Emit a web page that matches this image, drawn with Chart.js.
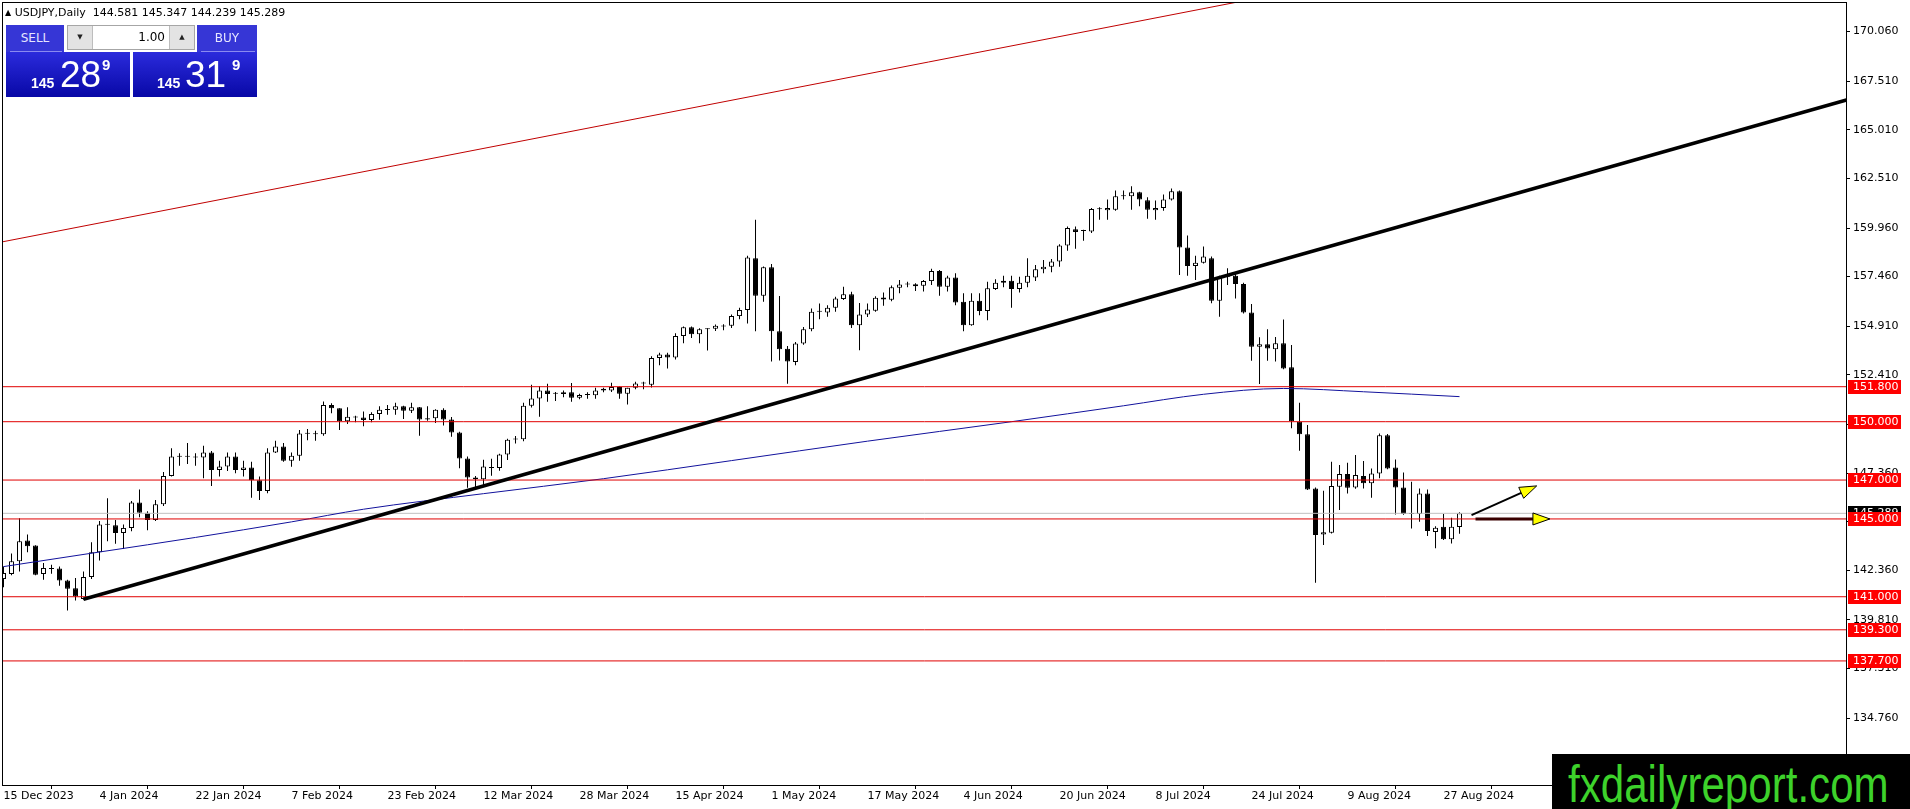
<!DOCTYPE html>
<html>
<head>
<meta charset="utf-8">
<title>USDJPY, Daily</title>
<script src="https://cdn.jsdelivr.net/npm/chart.js@4/dist/chart.umd.min.js"></script>
<style>
    html, body { margin: 0; padding: 0; background: #fff; overflow: hidden; }
    #wrap { position: relative; width: 1910px; height: 809px; }
    #chart { position: absolute; left: 0; top: 0; }
    .abs { position: absolute; box-sizing: border-box; }
    #hdr { left: 5px; top: 6px; font: 11px "DejaVu Sans"; color: #000; white-space: pre; line-height: 14px; }
    #hdr .tri { font-size: 8px; vertical-align: 1px; }
    .btn { top: 25px; height: 27px; background: #3636d6; color: #e6e6ff; font: 12px "DejaVu Sans"; text-align: center; line-height: 27px; }
    .btn:after { content: ""; position: absolute; left: 4px; right: 2px; bottom: 0; height: 1px; background: #8a8af0; }
    #sell { left: 6px; width: 58px; }
    #buy { left: 197px; width: 60px; }
    #lots { left: 67px; top: 25px; width: 128px; height: 25px; background: #fff; border: 1px solid #a6a6a6; font: 12px "DejaVu Sans"; }
    #lots .arr { position: absolute; top: 0; width: 24px; height: 23px; background: #e3e3e3; font-size: 7px; line-height: 23px; text-align: center; color: #222; }
    #lots .dn { left: 0; border-right: 1px solid #bdbdbd; }
    #lots .up { right: 0; border-left: 1px solid #bdbdbd; }
    #lots .val { position: absolute; right: 29px; top: 0; line-height: 23px; color: #000; }
    .price { top: 52px; width: 124px; height: 45px; background: linear-gradient(#2b2bdc, #0808a6); color: #fff; font-family: "Liberation Sans"; }
    .price span { position: absolute; white-space: nowrap; }
    .price .s { font-size: 14px; font-weight: bold; line-height: 14px; top: 24px; }
    .price .b { font-size: 37px; line-height: 37px; top: 4px; }
    .price .p { font-size: 15px; font-weight: bold; line-height: 15px; top: 5px; }
    #sellp { left: 6px; }
    #buyp { left: 133px; }
    #logo { left: 1552px; top: 754px; width: 358px; height: 55px; background: #000; overflow: hidden; }
    #logo span { position: absolute; left: 16px; top: 4px; font: 52px/52px "Liberation Sans"; color: #3dd22b; transform: scaleX(0.81); transform-origin: left top; white-space: nowrap; }
</style>
</head>
<body>
<div id="wrap">
    <canvas id="chart" width="1910" height="809"></canvas>
    <div id="hdr" class="abs"><span class="tri">▲</span> USDJPY,Daily  144.581 145.347 144.239 145.289</div>
    <div id="sell" class="abs btn">SELL</div>
    <div id="lots" class="abs"><span class="arr dn">▼</span><span class="val">1.00</span><span class="arr up">▲</span></div>
    <div id="buy" class="abs btn">BUY</div>
    <div id="sellp" class="abs price"><span class="s" style="left:25px">145</span><span class="b" style="left:54px">28</span><span class="p" style="left:96px">9</span></div>
    <div id="buyp" class="abs price"><span class="s" style="left:24px">145</span><span class="b" style="left:52px">31</span><span class="p" style="left:99px">9</span></div>
    <div id="logo" class="abs"><span>fxdailyreport.com</span></div>
</div>
<script>
// daily candles, bar 0 = 15 Dec 2023 ... bar 182 = 29 Aug 2024
const opens = [
    141.91, 142.17, 142.82, 143.89, 143.63, 142.17, 142.45, 142.45, 141.84, 141.44,
    140.89, 142.01, 143.29, 144.72, 144.68, 144.28, 144.54, 145.84, 145.32, 144.94,
    145.75, 147.21, 148.20, 148.21, 148.19, 148.16, 148.42, 147.52, 147.70, 148.21,
    147.52, 147.64, 146.99, 146.44, 148.42, 148.73, 147.99, 148.25, 149.40, 149.38,
    149.36, 150.86, 150.69, 150.02, 150.24, 150.22, 150.09, 150.40, 150.60, 150.62,
    150.80, 150.57, 150.74, 150.11, 150.18, 150.61, 150.11, 149.45, 148.11, 147.13,
    147.04, 147.62, 147.62, 148.31, 149.08, 149.10, 150.82, 151.20, 151.60, 151.44,
    151.42, 151.52, 151.23, 151.38, 151.36, 151.70, 151.60, 151.78, 151.44, 151.74,
    151.96, 151.90, 153.28, 153.45, 153.30, 154.41, 154.86, 154.50, 154.76, 154.78,
    154.90, 154.93, 155.43, 155.74, 158.41, 156.48, 157.94, 154.65, 153.75, 153.07,
    154.02, 154.75, 155.65, 155.62, 155.86, 156.31, 156.55, 154.96, 155.51, 155.70,
    156.39, 156.27, 156.89, 157.06, 157.07, 156.99, 157.23, 157.75, 156.94, 157.41,
    156.17, 154.96, 156.22, 155.69, 156.83, 157.15, 157.25, 156.82, 157.15, 157.41,
    157.84, 157.97, 158.24, 159.06, 159.90, 159.81, 159.78, 160.92, 160.87, 160.90,
    161.59, 161.59, 161.80, 161.39, 160.87, 160.99, 161.42, 161.85, 158.96, 158.01,
    158.18, 158.40, 156.22, 157.45, 157.50, 157.08, 155.61, 153.86, 153.98, 153.72,
    154.03, 152.80, 150.00, 149.35, 146.57, 144.20, 144.29, 146.66, 147.31, 146.62,
    147.21, 146.83, 147.34, 149.31, 147.65, 146.62, 145.25, 145.25, 146.31, 144.33,
    144.60, 143.95, 144.581
];
const highs = [
    142.56, 143.22, 145.03, 144.20, 143.65, 142.73, 142.65, 142.56, 141.87, 141.96,
    142.30, 143.80, 144.89, 146.06, 144.94, 144.72, 145.92, 146.52, 145.40, 145.97,
    147.42, 148.63, 148.38, 148.90, 148.38, 148.76, 148.50, 147.99, 148.42, 148.42,
    147.99, 147.94, 147.18, 148.64, 149.02, 148.90, 148.42, 149.57, 149.62, 149.53,
    151.04, 150.95, 150.69, 150.74, 150.31, 150.53, 150.49, 150.80, 150.86, 150.97,
    150.82, 150.97, 150.76, 150.79, 150.64, 150.69, 150.24, 149.49, 148.21, 147.21,
    148.05, 148.09, 148.35, 149.12, 149.26, 150.97, 151.90, 151.82, 151.95, 151.53,
    151.60, 151.99, 151.44, 151.51, 151.75, 151.74, 152.00, 151.81, 151.75, 152.05,
    152.05, 153.37, 153.54, 153.54, 154.55, 154.89, 154.89, 154.81, 154.81, 155.00,
    155.01, 155.51, 155.86, 158.54, 160.39, 157.98, 158.11, 156.46, 153.89, 154.10,
    154.87, 155.82, 156.08, 155.99, 156.42, 156.94, 156.68, 156.11, 156.08, 156.45,
    156.65, 157.00, 157.29, 157.20, 157.12, 157.29, 157.86, 157.80, 157.51, 157.63,
    156.60, 156.60, 156.60, 157.20, 157.33, 157.51, 157.51, 157.46, 158.41, 158.06,
    158.32, 158.37, 159.13, 160.04, 160.04, 159.87, 160.99, 161.03, 161.42, 161.89,
    161.89, 162.11, 161.82, 161.54, 161.37, 161.68, 161.99, 161.89, 159.58, 158.53,
    159.01, 158.49, 157.50, 157.89, 157.63, 157.15, 156.05, 154.34, 154.75, 154.36,
    155.26, 153.94, 150.98, 149.83, 146.62, 146.45, 147.94, 147.77, 147.89, 148.29,
    147.98, 147.60, 149.40, 149.37, 148.06, 147.39, 146.91, 146.57, 146.52, 144.63,
    145.25, 145.06, 145.347
];
const lows = [
    141.49, 142.10, 142.30, 143.29, 142.10, 141.87, 142.18, 141.56, 140.29, 140.81,
    140.84, 141.91, 142.87, 143.85, 143.73, 143.46, 144.37, 145.09, 144.42, 144.89,
    145.66, 147.18, 147.73, 147.82, 147.73, 147.09, 146.70, 147.18, 147.47, 147.35,
    147.18, 146.09, 145.97, 146.32, 148.39, 147.94, 147.68, 147.99, 149.05, 149.02,
    149.28, 150.43, 149.57, 149.88, 149.97, 149.77, 149.97, 150.10, 150.36, 150.36,
    150.14, 150.45, 149.28, 150.05, 149.94, 149.80, 149.23, 147.61, 146.61, 146.61,
    146.75, 147.22, 147.48, 148.03, 148.88, 149.00, 150.73, 150.25, 151.03, 151.07,
    151.26, 151.03, 151.16, 151.18, 151.18, 151.52, 151.53, 151.18, 150.88, 151.67,
    151.67, 151.76, 152.90, 152.73, 153.20, 154.03, 154.30, 154.03, 153.66, 154.66,
    154.70, 154.82, 155.27, 155.05, 154.65, 156.17, 153.10, 153.15, 151.95, 152.90,
    153.96, 154.65, 155.27, 155.40, 155.65, 156.26, 154.82, 153.67, 155.39, 155.65,
    155.96, 156.20, 156.60, 156.91, 156.72, 156.69, 157.03, 156.48, 156.69, 155.99,
    154.65, 154.93, 155.48, 155.22, 156.77, 156.91, 155.86, 156.65, 156.91, 157.24,
    157.63, 157.68, 157.97, 158.79, 158.89, 159.30, 159.70, 160.39, 160.39, 160.85,
    161.42, 160.90, 161.08, 160.44, 160.39, 160.85, 161.37, 157.55, 157.51, 157.29,
    158.14, 156.09, 155.40, 157.03, 156.34, 155.57, 153.14, 151.94, 153.14, 153.09,
    152.70, 149.66, 148.51, 146.49, 141.72, 143.66, 144.25, 145.46, 146.31, 146.55,
    146.57, 146.09, 147.09, 147.55, 145.23, 145.21, 144.51, 144.86, 144.12, 143.49,
    143.92, 143.74, 144.239
];
const closes = [
    142.22, 142.82, 143.85, 143.60, 142.13, 142.48, 142.43, 141.84, 141.41, 141.01,
    142.01, 143.29, 144.72, 144.70, 144.28, 144.54, 145.84, 145.32, 144.94, 145.75,
    147.21, 148.21, 148.20, 148.20, 148.16, 148.42, 147.52, 147.70, 148.21, 147.52,
    147.64, 146.99, 146.44, 148.42, 148.73, 147.99, 148.25, 149.40, 149.38, 149.36,
    150.86, 150.69, 150.02, 150.26, 150.22, 150.09, 150.40, 150.61, 150.62, 150.80,
    150.57, 150.74, 150.11, 150.18, 150.61, 150.11, 149.45, 148.11, 147.13, 147.04,
    147.70, 147.63, 148.31, 149.07, 149.10, 150.82, 151.20, 151.60, 151.42, 151.45,
    151.52, 151.23, 151.38, 151.39, 151.61, 151.60, 151.78, 151.44, 151.74, 151.96,
    151.97, 153.28, 153.45, 153.30, 154.41, 154.86, 154.50, 154.76, 154.77, 154.94,
    154.95, 155.43, 155.74, 158.44, 156.48, 157.94, 154.65, 153.72, 153.10, 154.02,
    154.75, 155.65, 155.65, 155.86, 156.34, 156.55, 154.96, 155.51, 155.77, 156.37,
    156.29, 156.91, 157.06, 157.05, 156.97, 157.23, 157.75, 156.94, 157.41, 156.13,
    154.96, 156.22, 155.69, 156.86, 157.15, 157.25, 156.82, 157.15, 157.51, 157.84,
    157.97, 158.24, 159.06, 159.96, 159.75, 159.80, 160.94, 160.95, 160.99, 161.59,
    161.60, 161.80, 161.42, 160.90, 160.99, 161.42, 161.85, 158.96, 158.01, 158.18,
    158.49, 156.22, 157.45, 157.50, 157.08, 155.61, 153.86, 153.98, 153.77, 154.03,
    152.74, 150.03, 149.35, 146.52, 144.17, 144.31, 146.69, 147.31, 146.61, 147.26,
    146.83, 147.34, 149.31, 147.60, 146.62, 145.25, 145.27, 146.31, 144.38, 144.55,
    143.95, 144.60, 145.289
];

// one date label every 12 bars
const dateLabels = ['15 Dec 2023', '4 Jan 2024', '22 Jan 2024', '7 Feb 2024', '23 Feb 2024', '12 Mar 2024',
    '28 Mar 2024', '15 Apr 2024', '1 May 2024', '17 May 2024', '4 Jun 2024', '20 Jun 2024',
    '8 Jul 2024', '24 Jul 2024', '9 Aug 2024', '27 Aug 2024'];
const priceTicks = [170.06, 167.51, 165.01, 162.51, 159.96, 157.46, 154.91, 152.41,
    149.86, 147.36, 144.86, 142.36, 139.81, 137.31, 134.76];

// moving average, read at a few bars
const maBars = [0, 12, 24, 36, 45, 60, 75, 91, 108, 126, 140, 150, 160, 170, 182];
const maValues = [142.55, 143.3, 144.05, 144.85, 145.5, 146.3, 147.07, 148.0, 149.0, 150.0,
    150.82, 151.41, 151.71, 151.54, 151.29];

// drawn objects
const levels = [151.8, 150.0, 147.0, 145.0, 141.0, 139.3, 137.7];
const lastPrice = 145.289;
const trendBars = [10, 232];
const trendValues = [140.87, 166.73];
const channelBars = [-1, 160];
const channelValues = [159.18, 172.04];
const arrowFrom = [[183.5, 145.2], [184.0, 145.0]];
const arrowTo = [[191.65, 146.7], [193.3, 145.0]];

const bodies = opens.map((o, i) => ({x: i, y: [o, closes[i]]}));
const wicks = lows.map((l, i) => ({x: i, y: [l, highs[i]]}));
const bodyColors = opens.map((o, i) => closes[i] - o > 0.05 ? '#ffffff' : '#000000');

function lineSet(xs, ys, color, width, order) {
    return {
        type: 'line',
        data: xs.map((x, i) => ({x: x, y: ys[i]})),
        borderColor: color,
        borderWidth: width,
        pointRadius: 0,
        fill: false,
        order: order
    };
}

let datasets = [
    {
        data: bodies,
        backgroundColor: bodyColors,
        borderColor: '#000',
        borderWidth: 1,
        borderSkipped: false,
        barThickness: 5,
        minBarLength: 1,
        inflateAmount: 0,
        grouped: false,
        order: 1
    },
    {
        data: wicks,
        backgroundColor: '#000',
        borderWidth: 0,
        barThickness: 1,
        inflateAmount: 0,
        grouped: false,
        order: 2
    },
    lineSet([-1, 232], [lastPrice, lastPrice], '#c0c0c0', 1, 0)
];
levels.forEach(function (lvl) {
    datasets.push(lineSet([-1, 232], [lvl, lvl], '#e00000', 1, -1));
});
let ma = lineSet(maBars, maValues, '#12129c', 1, -1);
ma.cubicInterpolationMode = 'monotone';
datasets.push(ma);
datasets.push(lineSet(channelBars, channelValues, '#c00000', 1, -2));
datasets.push(lineSet(trendBars, trendValues, '#000', 3.5, -2));

function drawArrow(ctx, x1, y1, x2, y2, color, width) {
    const ang = Math.atan2(y2 - y1, x2 - x1);
    const len = 17, half = 6;
    const bx = x2 - len * Math.cos(ang), by = y2 - len * Math.sin(ang);
    ctx.strokeStyle = color;
    ctx.lineWidth = width;
    ctx.beginPath();
    ctx.moveTo(x1, y1);
    ctx.lineTo(bx, by);
    ctx.stroke();
    ctx.beginPath();
    ctx.moveTo(x2, y2);
    ctx.lineTo(bx + half * Math.sin(ang), by - half * Math.cos(ang));
    ctx.lineTo(bx - half * Math.sin(ang), by + half * Math.cos(ang));
    ctx.closePath();
    ctx.fillStyle = '#ffff00';
    ctx.fill();
    ctx.lineWidth = 1;
    ctx.strokeStyle = '#000';
    ctx.stroke();
}

const overlay = {
    id: 'overlay',
    afterDatasetsDraw(chart) {
        const {ctx, scales: {x, y}} = chart;
        const colors = ['#000', '#3a0000'];
        const widths = [2, 3];
        ctx.save();
        arrowFrom.forEach(function (p, i) {
            drawArrow(ctx, x.getPixelForValue(p[0]), y.getPixelForValue(p[1]),
                x.getPixelForValue(arrowTo[i][0]), y.getPixelForValue(arrowTo[i][1]), colors[i], widths[i]);
        });
        ctx.restore();
    },
    afterDraw(chart) {
        const {ctx, chartArea: a, scales: {y}} = chart;
        ctx.save();
        ctx.strokeStyle = '#000';
        ctx.lineWidth = 1;
        ctx.strokeRect(a.left - 0.5, a.top - 0.5, a.right - a.left + 1, a.bottom - a.top + 1);
        ctx.font = '11px "DejaVu Sans"';
        ctx.textBaseline = 'middle';
        function tag(v, bg) {
            const py = Math.round(y.getPixelForValue(v));
            ctx.fillStyle = bg;
            ctx.fillRect(a.right + 2, py - 7, 53, 14);
            ctx.fillStyle = '#fff';
            ctx.fillText(v.toFixed(3), a.right + 7, py + 0.5);
        }
        tag(lastPrice, '#000');
        levels.forEach(function (l) { tag(l, '#ff0000'); });
        ctx.restore();
    }
};

new Chart(document.getElementById('chart'), {
    type: 'bar',
    data: {datasets: datasets},
    options: {
        responsive: false,
        animation: false,
        events: [],
        layout: {padding: {left: 3, top: 3, right: 0, bottom: 0}},
        plugins: {legend: {display: false}, tooltip: {enabled: false}},
        scales: {
            x: {
                type: 'linear',
                min: -0.0625,
                max: 230.31,
                offset: false,
                grid: {drawOnChartArea: false, tickLength: 4, color: '#000'},
                border: {display: true, color: '#000'},
                ticks: {
                    align: 'start',
                    autoSkip: false,
                    maxRotation: 0,
                    padding: 1,
                    color: '#000',
                    font: {family: 'DejaVu Sans', size: 11},
                    callback: (v, i) => dateLabels[i] || ''
                },
                afterBuildTicks: (axis) => {
                    axis.ticks = dateLabels.map((_, i) => ({value: i * 12}));
                },
                afterFit: (axis) => {
                    axis.height = 24;
                    axis.paddingLeft = 0;
                    axis.paddingRight = 0;
                }
            },
            y: {
                position: 'right',
                min: 131.32,
                max: 171.53,
                grid: {drawOnChartArea: false, tickLength: 4, color: '#000'},
                border: {display: true, color: '#000'},
                ticks: {
                    padding: 3,
                    color: '#000',
                    font: {family: 'DejaVu Sans', size: 11},
                    callback: (v) => v.toFixed(3)
                },
                afterBuildTicks: (axis) => {
                    axis.ticks = priceTicks.map((v) => ({value: v}));
                },
                afterFit: (axis) => {
                    axis.width = 64;
                    axis.paddingTop = 0;
                    axis.paddingBottom = 0;
                }
            }
        }
    },
    plugins: [overlay]
});
</script>
</body>
</html>
